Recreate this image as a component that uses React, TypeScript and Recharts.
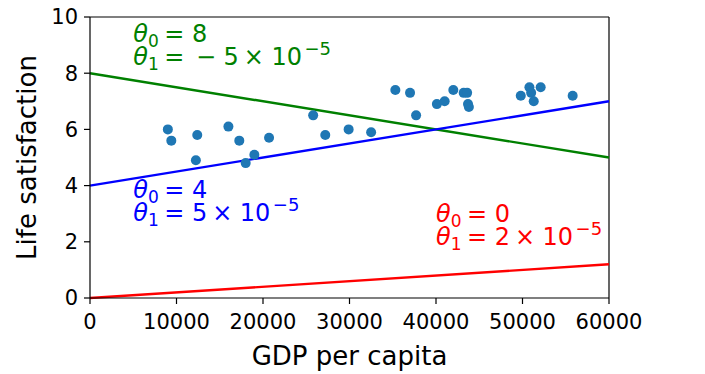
import React from 'react';
import {
    ComposedChart, Scatter, Line, XAxis, YAxis, ReferenceLine, ReferenceDot,
} from 'recharts';

// GDP per capita vs. life satisfaction
const gdpPerCapita = [
    9000, 9400, 12240, 12400, 16000, 17260, 18000, 19000, 20700, 25800,
    27200, 29900, 32500, 35300, 37000, 37700, 40100, 41000, 42000, 43200,
    43600, 43700, 43800, 49800, 50800, 51000, 51300, 52100, 55800,
];
const lifeSatisfaction = [
    6.0, 5.6, 4.9, 5.8, 6.1, 5.6, 4.8, 5.1, 5.7, 6.5,
    5.8, 6.0, 5.9, 7.4, 7.3, 6.5, 6.9, 7.0, 7.4, 7.3,
    7.3, 6.9, 6.8, 7.2, 7.5, 7.3, 7.0, 7.5, 7.2,
];

// model lines, end points only
const modelX = [0, 60000];
const greenY = [8, 5];
const blueY = [4, 7];
const redY = [0, 1.2];

const xTicks = [0, 10000, 20000, 30000, 40000, 50000, 60000];
const yTicks = [0, 2, 4, 6, 8, 10];

const FONT = 'DejaVu Sans';

const points = gdpPerCapita.map((x, i) => ({ x, y: lifeSatisfaction[i] }));
const toLine = (ys: number[]) => modelX.map((x, i) => ({ x, y: ys[i] }));

const Dot = (props: any) => <circle cx={props.cx} cy={props.cy} r={5} fill="#1f77b4" />;

// two-line mathtext-ish label: theta0 = a / theta1 = b x 10^-5
const ModelLabel = (props: any) => {
    const { viewBox, color, theta0, sign, mantissa } = props;
    const x = viewBox.x;
    const y = viewBox.y;
    return (
        <g fill={color} fontFamily={FONT} fontSize={24}>
            <text x={x} y={y - 23}>
                <tspan fontStyle="italic">θ</tspan>
                <tspan fontSize={17} dy={5}>0</tspan>
                <tspan dy={-5} dx={5.5}>=</tspan>
                <tspan dx={7.5}>{theta0}</tspan>
            </text>
            <text x={x} y={y}>
                <tspan fontStyle="italic">θ</tspan>
                <tspan fontSize={17} dy={5}>1</tspan>
                <tspan dy={-5} dx={5.5}>=</tspan>
                {sign ? <tspan dx={11.5}>−</tspan> : null}
                <tspan dx={7.5}>{mantissa}</tspan>
                <tspan dx={5}>×</tspan>
                <tspan dx={7.5}>10</tspan>
                <tspan fontSize={18} dy={-10} dx={2.5}>−5</tspan>
            </text>
        </g>
    );
};

const XTitle = (props: any) => {
    const { x, y, width } = props.viewBox;
    return (
        <text x={x + width / 2} y={y + 67} textAnchor="middle" fontFamily={FONT} fontSize={26} fill="#000">
            GDP per capita
        </text>
    );
};

const YTitle = (props: any) => {
    const { x, y, height } = props.viewBox;
    const cx = x + 36;
    const cy = y + height / 2;
    return (
        <text x={cx} y={cy} transform={`rotate(-90, ${cx}, ${cy})`} textAnchor="middle" fontFamily={FONT} fontSize={26} fill="#000">
            Life satisfaction
        </text>
    );
};

const tickStyle = { fill: '#000', fontSize: 21, fontFamily: FONT };

export default function App() {
    return (
        <div style={{ position: 'absolute', left: 0, top: 0, background: '#fff' }}>
            <ComposedChart width={705} height={374} margin={{ top: 17, right: 96, bottom: 0, left: 0 }}>
                <XAxis
                    type="number"
                    dataKey="x"
                    domain={[0, 60000]}
                    ticks={xTicks}
                    interval={0}
                    height={76}
                    tick={tickStyle}
                    tickSize={6}
                    tickMargin={10}
                    axisLine={{ stroke: '#000', strokeWidth: 1.2 }}
                    tickLine={{ stroke: '#000', strokeWidth: 1.2 }}
                    label={<XTitle />}
                />
                <YAxis
                    type="number"
                    dataKey="y"
                    domain={[0, 10]}
                    ticks={yTicks}
                    interval={0}
                    width={90}
                    tick={tickStyle}
                    tickSize={6}
                    tickMargin={6}
                    axisLine={{ stroke: '#000', strokeWidth: 1.2 }}
                    tickLine={{ stroke: '#000', strokeWidth: 1.2 }}
                    label={<YTitle />}
                />
                <ReferenceLine y={10} stroke="#000" strokeWidth={1.2} />
                <ReferenceLine x={60000} stroke="#000" strokeWidth={1.2} />
                <Scatter data={points} shape={<Dot />} isAnimationActive={false} />
                <Line data={toLine(greenY)} dataKey="y" stroke="#008000" strokeWidth={2.4} dot={false} isAnimationActive={false} />
                <Line data={toLine(blueY)} dataKey="y" stroke="#0000ff" strokeWidth={2.4} dot={false} isAnimationActive={false} />
                <Line data={toLine(redY)} dataKey="y" stroke="#ff0000" strokeWidth={2.4} dot={false} isAnimationActive={false} />
                <ReferenceDot x={5000} y={8.3} r={0} fill="none" stroke="none" ifOverflow="visible"
                    label={<ModelLabel color="#008000" theta0="8" sign mantissa="5" />} />
                <ReferenceDot x={5000} y={2.75} r={0} fill="none" stroke="none" ifOverflow="visible"
                    label={<ModelLabel color="#0000ff" theta0="4" mantissa="5" />} />
                <ReferenceDot x={40000} y={1.9} r={0} fill="none" stroke="none" ifOverflow="visible"
                    label={<ModelLabel color="#ff0000" theta0="0" mantissa="2" />} />
            </ComposedChart>
        </div>
    );
}
